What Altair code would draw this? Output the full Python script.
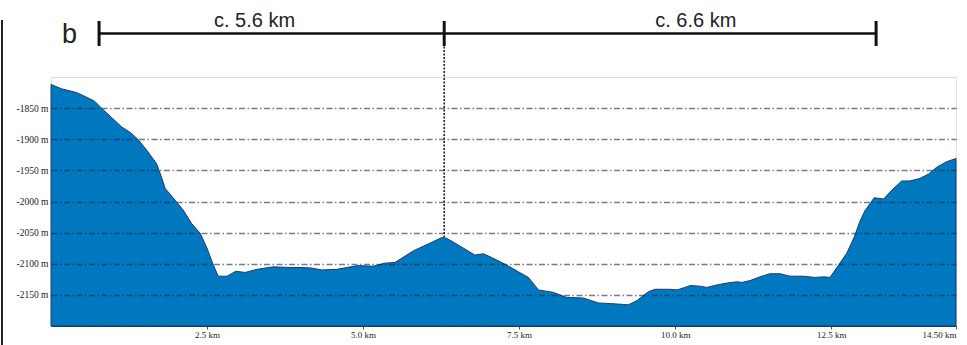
import altair as alt
import pandas as pd

# Seafloor depth profile along the transect (distance in km, depth in m)
distance_km = [
    0.0, 0.17, 0.41, 0.52, 0.70, 0.81, 0.97, 1.13, 1.27, 1.40, 1.53, 1.69,
    1.75, 1.83, 1.99, 2.12, 2.25, 2.39, 2.50, 2.60, 2.68, 2.82, 2.96, 3.11,
    3.30, 3.56, 3.83, 4.02, 4.18, 4.34, 4.58, 4.74, 4.92, 5.16, 5.35, 5.51,
    5.81, 6.07, 6.26, 6.34, 6.61, 6.79, 6.93, 7.06, 7.30, 7.49, 7.65, 7.81,
    8.05, 8.26, 8.53, 8.77, 8.96, 9.12, 9.25, 9.39, 9.57, 9.68, 9.92, 10.03,
    10.16, 10.24, 10.40, 10.51, 10.67, 10.83, 10.99, 11.07, 11.20, 11.36,
    11.52, 11.68, 11.84, 12.05, 12.24, 12.38, 12.48, 12.62, 12.75, 12.87,
    12.96, 13.04, 13.19, 13.34, 13.47, 13.63, 13.76, 13.92, 14.06, 14.19,
    14.35, 14.50,
]
depth_m = [
    -1812, -1819, -1825, -1830, -1839, -1850, -1865, -1880, -1889, -1901,
    -1917, -1939, -1955, -1979, -1998, -2014, -2035, -2051, -2075, -2102,
    -2120, -2120, -2112, -2114, -2109, -2105, -2106, -2106, -2107, -2110,
    -2109, -2106, -2103, -2104, -2099, -2098, -2079, -2067, -2058, -2059,
    -2075, -2086, -2084, -2090, -2102, -2113, -2122, -2142, -2146, -2154,
    -2155, -2163, -2164, -2165, -2166, -2159, -2145, -2141, -2141, -2142,
    -2138, -2135, -2136, -2138, -2134, -2131, -2129, -2130, -2127, -2121,
    -2116, -2116, -2120, -2120, -2122, -2121, -2122, -2102, -2083, -2057,
    -2032, -2015, -1994, -1996, -1982, -1967, -1967, -1963, -1956, -1945,
    -1936, -1931,
]
depth_floor = -2200

# Axis ticks
depth_ticks = [-1850, -1900, -1950, -2000, -2050, -2100, -2150]
distance_ticks = [2.5, 5.0, 7.5, 10.0, 12.5, 14.5]

# Distance brackets above the profile
bracket_ends_km = [0.77, 6.30, 13.22]
bracket_labels = ["c. 5.6 km", "c. 6.6 km"]
bracket_label_km = [3.26, 10.33]
divider_km = 6.30
divider_depth = -2058
panel_letter = "b"

profile = pd.DataFrame({"km": distance_km, "depth": depth_m})
ends = pd.DataFrame({"km": bracket_ends_km})
labels = pd.DataFrame({"km": bracket_label_km, "text": bracket_labels})
divider = pd.DataFrame({"km": [divider_km], "depth": [divider_depth]})

x_scale = alt.Scale(domain=[0, 14.5], nice=False, zero=False)
y_scale = alt.Scale(domain=[depth_floor, -1800], nice=False, zero=False)

x_axis = alt.Axis(
    values=distance_ticks,
    labelExpr="datum.value == 14.5 ? '14.50 km' : format(datum.value, '.1f') + ' km'",
    title=None, grid=False, domain=True, domainColor="#1e3560", domainWidth=1,
    ticks=True, tickSize=3, tickColor="#555555", labelPadding=1,
    labelFont="Liberation Serif", labelFontSize=9, labelColor="#222222",
    labelFlush=True,
)
y_axis = alt.Axis(
    values=depth_ticks,
    labelExpr="'-' + abs(datum.value) + ' m'",
    title=None, domain=False, ticks=False, labelPadding=3,
    labelFont="Liberation Serif", labelFontSize=9.5, labelColor="#222222",
    grid=True, gridColor="#1b2540", gridOpacity=0.6, gridWidth=1.4,
    gridDash=[6, 2.5, 1.5, 2.5], zindex=1,
)

area = alt.Chart(profile).mark_area(
    color="#0078bf", stroke="#1e3b6e", strokeWidth=1, opacity=1
).encode(
    x=alt.X("km:Q", scale=x_scale, axis=x_axis),
    y=alt.Y("depth:Q", scale=y_scale, axis=y_axis),
    y2=alt.datum(depth_floor),
)

# Dotted divider from the bracket down to the summit
divider_line = alt.Chart(divider).mark_rule(
    color="#222222", strokeWidth=1.6, strokeDash=[2, 1.5]
).encode(
    x=alt.X("km:Q", scale=x_scale),
    y=alt.Y("depth:Q", scale=y_scale),
    y2=alt.value(-43.5),
)

bracket_line = alt.Chart(ends).mark_rule(color="#111111", strokeWidth=2.7).encode(
    x=alt.X("min(km):Q", scale=x_scale),
    x2="max(km):Q",
    y=alt.value(-43.5),
)

bracket_ticks = alt.Chart(ends).mark_rule(color="#111111", strokeWidth=3).encode(
    x=alt.X("km:Q", scale=x_scale),
    y=alt.value(-56),
    y2=alt.value(-31),
)

bracket_text = alt.Chart(labels).mark_text(
    font="Liberation Sans", fontSize=20, color="#222222",
    align="center", baseline="alphabetic",
).encode(
    x=alt.X("km:Q", scale=x_scale),
    y=alt.value(-50.5),
    text="text:N",
)

letter = alt.Chart(pd.DataFrame({"t": [panel_letter]})).mark_text(
    font="Liberation Sans", fontSize=27, color="#222222",
    align="left", baseline="alphabetic",
).encode(x=alt.value(11), y=alt.value(-34.5), text="t:N")

frame_edge = alt.Chart(pd.DataFrame({"a": [0]})).mark_rule(
    color="#222222", strokeWidth=2
).encode(x=alt.value(-49), y=alt.value(-57), y2=alt.value(268))

chart = alt.layer(
    area, divider_line, bracket_line, bracket_ticks, bracket_text, letter, frame_edge
).properties(
    width=905, height=249,
    autosize=alt.AutoSizeParams(type="none"),
    padding={"left": 51, "top": 77, "right": 11, "bottom": 19},
).configure_view(stroke=None, clip=False).configure(background="white")

chart.save("out.html", embed_options={"renderer": "svg", "actions": False})
